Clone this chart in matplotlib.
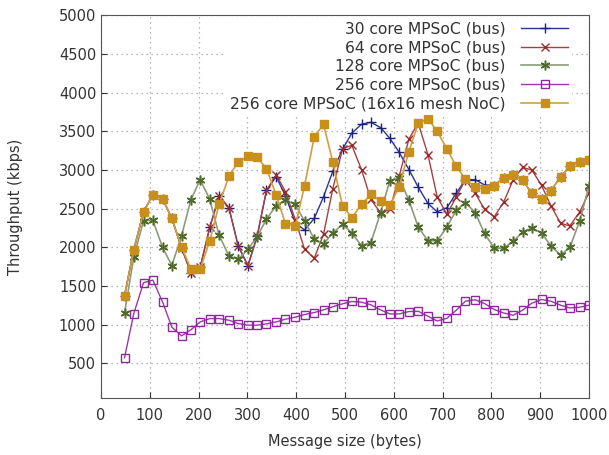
import numpy as np
from matplotlib import pyplot as plt

# message sizes (bytes)
sizes = [48, 67, 87, 106, 126, 145, 165, 184, 203, 223,
         242, 262, 281, 301, 320, 339, 359, 378, 398, 417,
         437, 456, 475, 495, 514, 534, 553, 573, 592, 611,
         631, 650, 670, 689, 709, 728, 747, 767, 786, 806,
         825, 845, 864, 883, 903, 922, 942, 961, 981, 1000]

bus30 = [1375, 1970, 2460, 2680, 2630, 2375, 1995, 1672, 1740, 2264,
         2663, 2513, 2020, 1763, 2145, 2736, 2915, 2665, 2320, 2225,
         2375, 2655, 2985, 3270, 3478, 3594, 3618, 3550, 3410, 3230,
         3007, 2780, 2569, 2460, 2514, 2700, 2878, 2876, 2808, 2800,
         2900, 2940, 2870, 2700, 2620, 2735, 2910, 3050, 3110, 3125]

bus64 = [1375, 1970, 2460, 2680, 2630, 2375, 1995, 1672, 1740, 2264,
         2663, 2513, 2020, 1763, 2145, 2736, 2940, 2720, 2360, 1977,
         1860, 2170, 2758, 3278, 3320, 3003, 2620, 2445, 2492, 2920,
         3400, 3610, 3200, 2653, 2428, 2650, 2878, 2700, 2492, 2396,
         2582, 2878, 3035, 3000, 2801, 2540, 2312, 2278, 2458, 2706]

bus128 = [1150, 1875, 2345, 2350, 2000, 1765, 2150, 2615, 2875, 2620,
          2155, 1890, 1845, 1975, 2140, 2365, 2540, 2615, 2555, 2340,
          2110, 2045, 2185, 2300, 2185, 2020, 2060, 2450, 2865, 2900,
          2610, 2265, 2085, 2085, 2265, 2480, 2580, 2450, 2180, 1990,
          1990, 2080, 2200, 2250, 2185, 2020, 1900, 2000, 2340, 2790]

bus256 = [573, 1144, 1543, 1577, 1294, 968, 856, 933, 1036, 1079,
          1079, 1058, 1015, 994, 994, 1011, 1036, 1071, 1097, 1131,
          1157, 1191, 1233, 1270, 1300, 1291, 1257, 1191, 1139, 1139,
          1170, 1174, 1109, 1048, 1083, 1187, 1304, 1322, 1274, 1196,
          1152, 1122, 1187, 1278, 1326, 1304, 1252, 1217, 1226, 1252]

noc256 = [1375, 1970, 2460, 2680, 2630, 2375, 2005, 1720, 1720, 2085,
          2560, 2920, 3105, 3180, 3165, 3020, 2675, 2305, 2275, 2795,
          3430, 3592, 3103, 2535, 2385, 2555, 2685, 2600, 2545, 2785,
          3240, 3605, 3660, 3505, 3270, 3050, 2880, 2780, 2760, 2800,
          2900, 2940, 2870, 2700, 2620, 2735, 2910, 3050, 3110, 3125]

labels = ["30 core MPSoC (bus)", "64 core MPSoC (bus)", "128 core MPSoC (bus)",
          "256 core MPSoC (bus)", "256 core MPSoC (16x16 mesh NoC)"]

f1 = plt.figure(figsize=(6.09, 4.55), dpi=100)
ax1 = f1.add_axes([0.166, 0.125, 0.801, 0.841])

ax1.plot(sizes, bus30, "-", color="#2b3592", lw=1, marker="+", ms=6.5, mew=1, mec="#1a237e")
ax1.plot(sizes, bus64, "-", color="#a84040", lw=1, marker="x", ms=5.5, mew=1, mec="#9a2a2a")
ax1.plot(sizes, bus128, "-", color="#8c9c78", lw=1.2, marker=(6, 2, 0), ms=7, mew=1.1, mec="#4f6b2a")
ax1.plot(sizes, bus256, "-", color="#9a3aa8", lw=1, marker="s", ms=5.5, mew=1, mfc="none", mec="#8c2a9c")
ax1.plot(sizes, noc256, "-", color="#d0a040", lw=1.2, marker="s", ms=5.8, mfc="#c8901a", mec="#c8901a")

ax1.set_xlim(0, 1000)
ax1.set_ylim(50, 5000)
ax1.set_xticks(range(0, 1001, 100))
ax1.set_yticks(range(500, 5001, 500))
ax1.grid(True, color="#a0a0a0", linestyle=(0, (1, 3)), lw=0.9)
ax1.set_axisbelow(True)
for s in ax1.spines.values():
    s.set_color("#555555")
ax1.tick_params(colors="#333333", labelsize=10.5, direction="in", length=4, width=0.8)
ax1.tick_params(axis="x", pad=7)
ax1.set_xlabel("Message size (bytes)", fontsize=10.5, color="#333333", labelpad=8)
ax1.set_ylabel("Throughput (kbps)", fontsize=10.5, color="#333333", labelpad=26)

leg = ax1.legend(labels, loc="upper right", bbox_to_anchor=(0.965, 0.995),
                 markerfirst=False, fontsize=11.2,
                 frameon=True, facecolor="white", edgecolor="none", framealpha=1,
                 handlelength=3.0, handletextpad=1.0, labelspacing=0.24,
                 borderpad=0.25, borderaxespad=0, fancybox=False)
for t in leg.get_texts():
    t.set_color("#333333")

f1.savefig("out.png", dpi=100)
